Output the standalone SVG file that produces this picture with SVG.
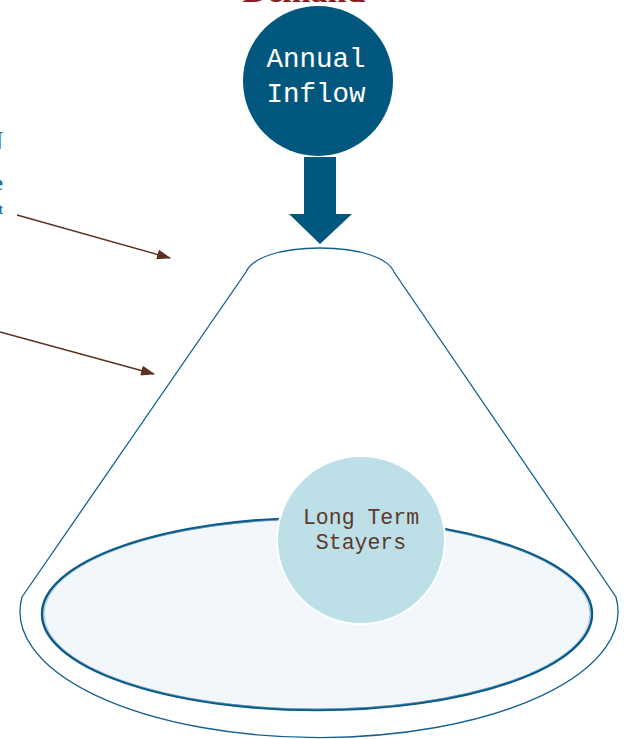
<svg xmlns="http://www.w3.org/2000/svg" width="624" height="739" viewBox="0 0 624 739">
<defs>
<style>
.mono{font-family:"Liberation Mono","DejaVu Sans Mono",monospace;text-anchor:middle}
.cone{fill:none;stroke:#14608f;stroke-width:1.3}
.brown{stroke:#5a3020;stroke-width:1.4;fill:none}
.frag{font-family:"Liberation Serif",serif;font-weight:bold;fill:#1a6faa;text-anchor:end}
</style>
<marker id="ah" viewBox="0 0 14 10" refX="13" refY="5" markerWidth="14" markerHeight="10" markerUnits="userSpaceOnUse" orient="auto">
<path d="M0,0 L14,5 L0,10 Z" fill="#5a3020"/>
</marker>
</defs>
<rect width="624" height="739" fill="#ffffff"/>
<text x="304" y="2" font-family="Liberation Serif,serif" font-weight="bold" font-size="34" fill="#8b1a1a" text-anchor="middle">Demand</text>
<g id="left-labels">
<text class="frag" x="3" y="149" font-size="26">N</text>
<text class="frag" x="3" y="190" font-size="20">e</text>
<text class="frag" x="3" y="214" font-size="14">t</text>
</g>
<g id="cone">
<path class="cone" d="M22,597 L246,272 C252,258 280,248 320,248 C360,248 388,258 394,272 L616,597 A299,126 0 1 1 22,597"/>
</g>
<g id="pool">
<ellipse cx="317" cy="614" rx="275" ry="96" fill="#f1f7fa" stroke="#0a5a8a" stroke-width="2.5"/>
<ellipse cx="317" cy="614" rx="273" ry="95" fill="none" stroke="#7aa3bd" stroke-width="1" opacity="0.6"/>
</g>
<g id="stayers">
<circle cx="361" cy="540" r="84" fill="#bddfe8" stroke="#ffffff" stroke-width="2"/>
<text class="mono" x="361" y="524" font-size="21.5" fill="#5a3a2a">Long Term</text>
<text class="mono" x="361" y="549" font-size="21.5" fill="#5a3a2a">Stayers</text>
</g>
<g id="inflow">
<circle cx="318" cy="81" r="75" fill="#02577f"/>
<text class="mono" x="316" y="67" font-size="27.5" fill="#ffffff">Annual</text>
<text class="mono" x="316" y="102" font-size="27.5" fill="#ffffff">Inflow</text>
</g>
<g id="connectors">
<path d="M304,157 H336 V214 H352 L320,244 L289,214 H304 Z" fill="#02577f"/>
<line class="brown" x1="17" y1="215" x2="170" y2="258" marker-end="url(#ah)"/>
<line class="brown" x1="0" y1="332" x2="154" y2="374" marker-end="url(#ah)"/>
</g>
</svg>
